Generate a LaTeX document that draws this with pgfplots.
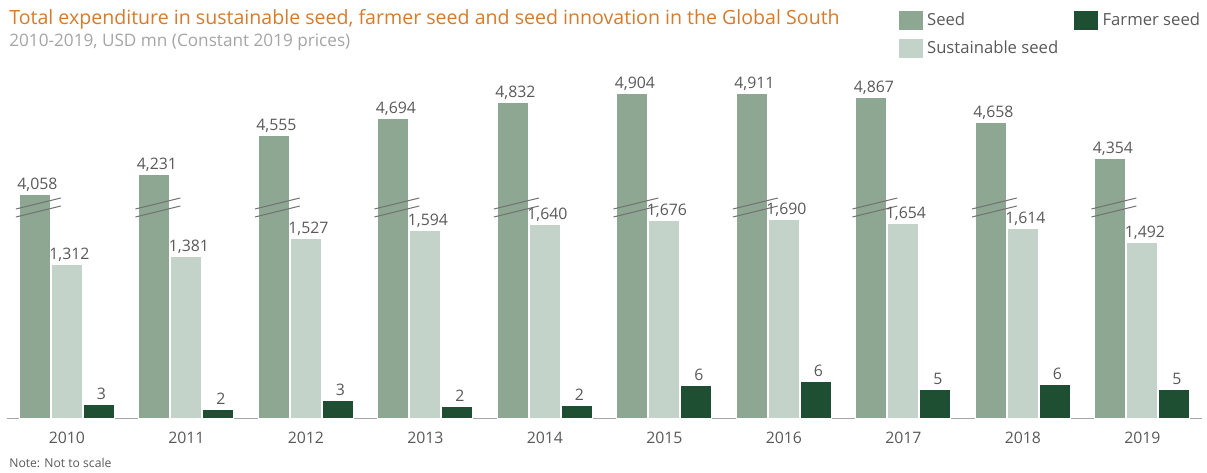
\documentclass[border=0pt]{standalone}
\usepackage{pgfplots}
\pgfplotsset{compat=1.18}
\usepackage{pgfplotstable}
\usepackage{fontspec}
\setmainfont{Open Sans}

\definecolor{seedc}{HTML}{8DA793}
\definecolor{sustc}{HTML}{C4D3CA}
\definecolor{farmc}{HTML}{1F4F33}
\definecolor{titlec}{HTML}{D57B2D}
\definecolor{subc}{HTML}{A5A5A5}
\definecolor{labc}{HTML}{595959}
\definecolor{axc}{HTML}{A6A6A6}

% chart is not to scale: h = drawn bar height, v = value printed on the bar
\pgfplotstableread{
x h v
0 224 4058
1 244 4231
2 283 4555
3 300 4694
4 316 4832
5 325 4904
6 325 4911
7 321 4867
8 296 4658
9 260 4354
}\seedtab
\pgfplotstableread{
x h v
0 154 1312
1 162 1381
2 180 1527
3 188 1594
4 194 1640
5 198 1676
6 199 1690
7 195 1654
8 190 1614
9 176 1492
}\susttab
\pgfplotstableread{
x h v
0 14 3
1 9 2
2 18 3
3 12 2
4 13 2
5 33 6
6 37 6
7 29 5
8 34 6
9 29 5
}\farmtab

\begin{document}
\begin{tikzpicture}[x=0.6pt,y=0.6pt]
\useasboundingbox (0,0) rectangle (1207,473);
\node[anchor=base west,inner sep=0,text=titlec,font=\fontsize{11.75}{14}\selectfont] at (9,448)
  {Total expenditure in sustainable seed, farmer seed and seed innovation in the Global South};
\node[anchor=base west,inner sep=0,text=subc,font=\fontsize{10.3}{12}\selectfont] at (9,426)
  {2010-2019, USD mn (Constant 2019 prices)};
\node[anchor=base west,inner sep=0,text=labc,font=\fontsize{7.3}{9}\selectfont] at (9,5)
  {Note: Not to scale};
\begin{axis}[
    at={(6,54.5)}, anchor=south west,
    scale only axis,
    width=717pt, height=251.1pt,
    xmin=-0.5, xmax=9.5, ymin=0, ymax=418.5,
    clip=false,
    axis x line*=bottom, axis y line=none,
    x axis line style={draw=axc,line width=0.9pt},
    xtick={0,...,9},
    xticklabels={2010,2011,2012,2013,2014,2015,2016,2017,2018,2019},
    major tick length=0pt,
    xticklabel style={font=\fontsize{9.5}{11}\selectfont,text=labc,yshift=-4.5pt},
    ytick=\empty,
    ybar, bar width=18.6pt,
    nodes near coords,
    point meta=explicit,
    every node near coord/.append style={font=\fontsize{9.5}{11}\selectfont,text=labc,
        anchor=base,yshift=3pt,xshift=1.5pt},
    /pgf/number format/.cd,1000 sep={,},assume math mode=true,
    /pgfplots/.cd,
    legend columns=2,
    legend cell align=left,
    legend image code/.code={\fill[#1] (0pt,-6pt) rectangle (15pt,6pt);},
    legend style={draw=none,fill=none,inner sep=0pt,
        font=\fontsize{10}{12}\selectfont,text=labc,
        at={(0.745,0.979)},anchor=north west,
        /tikz/every even column/.append style={column sep=7pt},
        row sep=4pt},
]
\addplot[fill=seedc,draw=white,line width=0.6pt,bar shift=-19.2pt] table[x=x,y=h,meta=v]{\seedtab};
\addlegendentry{Seed}
\addplot[fill=farmc,draw=white,line width=0.6pt,bar shift=19.2pt] table[x=x,y=h,meta=v]{\farmtab};
\addlegendentry{Farmer seed}
\addplot[fill=sustc,draw=white,line width=0.6pt,bar shift=0pt] table[x=x,y=h,meta=v]{\susttab};
\addlegendentry{Sustainable seed}
\pgfplotsinvokeforeach{0,...,9}{
  \draw[labc!85,line width=0.6pt] ([xshift=-30.6pt]axis cs:#1,209.5) -- ([xshift=-3.6pt]axis cs:#1,220.5);
  \draw[labc!85,line width=0.6pt] ([xshift=-30.6pt]axis cs:#1,201.5) -- ([xshift=-3.6pt]axis cs:#1,212.5);
}
\end{axis}
\end{tikzpicture}
\end{document}
